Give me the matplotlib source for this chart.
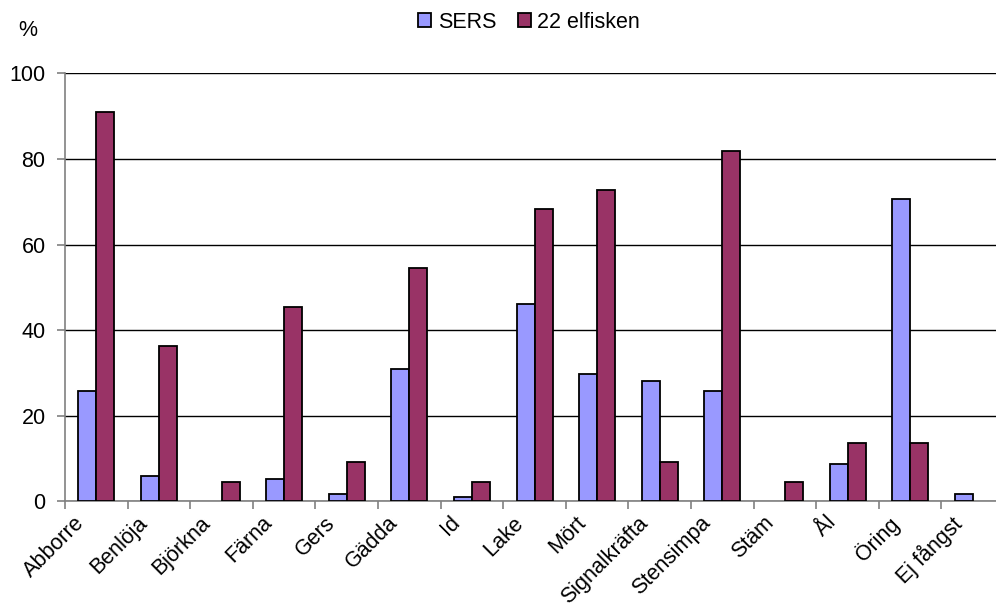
import matplotlib
matplotlib.use('Agg')
import matplotlib.pyplot as plt
import matplotlib.transforms as mtransforms
import numpy as np

plt.rcParams['font.family'] = ['Liberation Sans', 'DejaVu Sans']

species = ['Abborre', 'Benlöja', 'Björkna', 'Färna', 'Gers', 'Gädda', 'Id', 'Lake',
           'Mört', 'Signalkräfta', 'Stensimpa', 'Stäm', 'Ål', 'Öring', 'Ej fångst']
sers = [25.8, 5.8, 0, 5.2, 1.8, 30.9, 1.0, 46.0, 29.8, 28.0, 25.8, 0, 8.8, 70.6, 1.8]
elfiske = [90.9, 36.4, 4.5, 45.5, 9.1, 54.5, 4.5, 68.2, 72.7, 9.1, 81.8, 4.5, 13.6, 13.6, 0]
yticks = [0, 20, 40, 60, 80, 100]

fs = 15.5

fig = plt.figure(figsize=(9.96, 6.08), dpi=100)
ax = fig.add_axes([0.0653, 0.1755, 0.9428, 0.7039])

x = np.arange(len(species))
w = 0.288
# empty categories get no outline
ax.bar(x - w / 2, sers, w, color='#9999FF', edgecolor='black',
       linewidth=[1.3 if v > 0 else 0 for v in sers], label='SERS', zorder=3)
ax.bar(x + w / 2, elfiske, w, color='#993366', edgecolor='black',
       linewidth=[1.3 if v > 0 else 0 for v in elfiske], label='22 elfisken', zorder=3)

ax.set_xlim(-0.5, len(species) - 0.5)
ax.set_ylim(0, 100)
ax.set_yticks(yticks)
ax.yaxis.grid(True, color='black', linewidth=1.0, zorder=0)
ax.set_axisbelow(True)

for s in ['top', 'right']:
    ax.spines[s].set_visible(False)
ax.spines['left'].set_color('#808080')
ax.spines['bottom'].set_color('#808080')
ax.spines['left'].set_linewidth(1.2)
ax.spines['bottom'].set_linewidth(1.2)

ax.tick_params(axis='y', length=6, color='#808080', width=1.2, labelsize=fs, pad=8)

# category separators as minor ticks, labels on major ticks
ax.set_xticks(x)
ax.set_xticks(np.arange(len(species) + 1) - 0.5, minor=True)
ax.tick_params(axis='x', which='major', length=0, labelsize=fs, pad=8)
ax.tick_params(axis='x', which='minor', length=6, color='#808080', width=1.2)
ax.set_xticklabels(species, rotation=45, ha='right', va='top', rotation_mode='anchor')
offset = mtransforms.ScaledTranslation(-16 / 72, 0, fig.dpi_scale_trans)
for lab in ax.get_xticklabels():
    lab.set_transform(lab.get_transform() + offset)

fig.text(28 / 996, 1 - 30 / 608, '%', fontsize=fs, ha='center', va='center')

ax.legend(loc='center', bbox_to_anchor=(529 / 996, 1 - 22 / 608),
          bbox_transform=fig.transFigure, ncol=2, frameon=False, fontsize=fs,
          handlelength=0.6, handleheight=0.6, handletextpad=0.3, columnspacing=1.0,
          borderpad=0)

fig.savefig('out.png', dpi=100)
